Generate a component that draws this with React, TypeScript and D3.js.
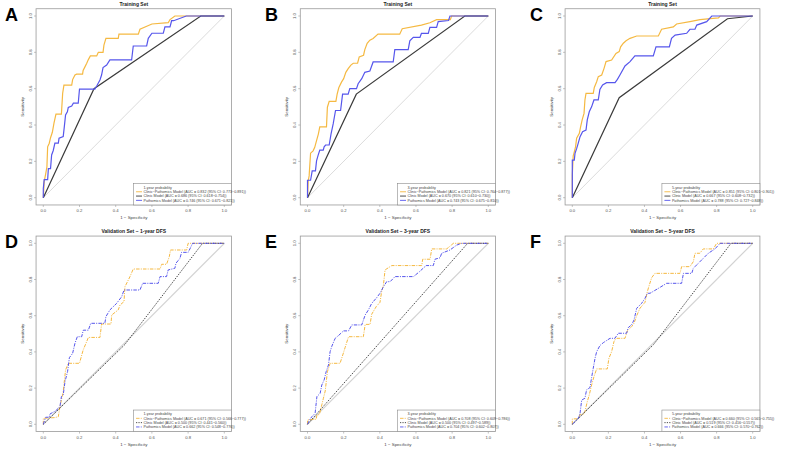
import React from 'react';
import * as d3 from 'd3';

type Pt = [number, number];

// panel text
const letters = ['A', 'B', 'C', 'D', 'E', 'F'];
const titles = [
  'Training Set', 'Training Set', 'Training Set',
  'Validation Set \u2212 1-year DFS', 'Validation Set \u2212 3-year DFS', 'Validation Set \u2212 5-year DFS',
];
const horizons = ['1-year probability', '3-year probability', '5-year probability', '1-year probability', '3-year probability', '5-year probability'];
const combinedLabels = [
  'Clinic\u2212Pathomics Model (AUC = 0.832 (95% CI: 0.773\u22120.891))',
  'Clinic\u2212Pathomics Model (AUC = 0.821 (95% CI: 0.764\u22120.877))',
  'Clinic\u2212Pathomics Model (AUC = 0.851 (95% CI: 0.801\u22120.901))',
  'Clinic\u2212Pathomics Model (AUC = 0.671 (95% CI: 0.566\u22120.777))',
  'Clinic\u2212Pathomics Model (AUC = 0.708 (95% CI: 0.609\u22120.786))',
  'Clinic\u2212Pathomics Model (AUC = 0.660 (95% CI: 0.565\u22120.755))',
];
const clinicLabels = [
  'Clinic Model (AUC = 0.686 (95% CI: 0.618\u22120.754))',
  'Clinic Model (AUC = 0.670 (95% CI: 0.610\u22120.730))',
  'Clinic Model (AUC = 0.667 (95% CI: 0.608\u22120.732))',
  'Clinic Model (AUC = 0.500 (95% CI: 0.441\u22120.560))',
  'Clinic Model (AUC = 0.500 (95% CI: 0.497\u22120.589))',
  'Clinic Model (AUC = 0.519 (95% CI: 0.416\u22120.557))',
];
const pathomicsLabels = [
  'Pathomics Model (AUC = 0.746 (95% CI: 0.671\u22120.821))',
  'Pathomics Model (AUC = 0.743 (95% CI: 0.675\u22120.810))',
  'Pathomics Model (AUC = 0.788 (95% CI: 0.727\u22120.848))',
  'Pathomics Model (AUC = 0.662 (95% CI: 0.548\u22120.776))',
  'Pathomics Model (AUC = 0.704 (95% CI: 0.602\u22120.807))',
  'Pathomics Model (AUC = 0.666 (95% CI: 0.570\u22120.762))',
];
const tickValues = [0, 0.2, 0.4, 0.6, 0.8, 1.0];
const tickLabels = ['0.0', '0.2', '0.4', '0.6', '0.8', '1.0'];

// ROC vertices: [1 - specificity, sensitivity]
const combinedA: Pt[] = [
  [0, 0], [0.005, 0.09], [0.013, 0.13], [0.02, 0.17], [0.024, 0.28], [0.033, 0.30], [0.04, 0.33], [0.05, 0.36],
  [0.059, 0.41], [0.07, 0.46], [0.10, 0.46], [0.107, 0.575], [0.114, 0.62], [0.157, 0.62], [0.162, 0.65],
  [0.175, 0.675], [0.184, 0.68], [0.217, 0.68], [0.22, 0.70], [0.23, 0.72], [0.24, 0.74], [0.249, 0.76],
  [0.26, 0.78], [0.295, 0.78], [0.304, 0.80], [0.33, 0.80], [0.335, 0.84], [0.346, 0.877], [0.414, 0.877],
  [0.418, 0.90], [0.525, 0.90], [0.534, 0.927], [0.60, 0.956], [0.69, 0.963], [0.70, 0.98], [0.727, 1.0], [1, 1],
];
const pathomicsA: Pt[] = [
  [0, 0], [0, 0.05], [0.005, 0.10], [0.024, 0.10], [0.028, 0.16], [0.04, 0.16], [0.046, 0.235], [0.055, 0.26],
  [0.064, 0.30], [0.083, 0.30], [0.087, 0.327], [0.11, 0.336], [0.116, 0.39], [0.123, 0.455], [0.133, 0.473],
  [0.138, 0.497], [0.157, 0.505], [0.166, 0.52], [0.193, 0.52], [0.20, 0.598], [0.285, 0.598], [0.295, 0.615],
  [0.313, 0.648], [0.322, 0.675], [0.33, 0.716], [0.35, 0.73], [0.368, 0.758], [0.488, 0.758], [0.497, 0.835],
  [0.571, 0.835], [0.58, 0.877], [0.60, 0.905], [0.663, 0.905], [0.672, 0.94], [0.70, 0.94], [0.709, 0.974],
  [0.72, 0.974], [0.79, 1.0], [1, 1],
];
const clinicA: Pt[] = [[0, 0], [0.28, 0.60], [0.87, 1.0], [1, 1]];

const combinedB: Pt[] = [
  [0, 0], [0.004, 0.092], [0.009, 0.12], [0.017, 0.245], [0.031, 0.258], [0.04, 0.277], [0.05, 0.314],
  [0.06, 0.35], [0.068, 0.39], [0.105, 0.39], [0.11, 0.498], [0.12, 0.53], [0.157, 0.53], [0.164, 0.57],
  [0.173, 0.605], [0.188, 0.636], [0.20, 0.655], [0.212, 0.69], [0.225, 0.71], [0.24, 0.73], [0.253, 0.74],
  [0.277, 0.74], [0.286, 0.775], [0.31, 0.784], [0.317, 0.815], [0.33, 0.85], [0.345, 0.867], [0.363, 0.876],
  [0.39, 0.90], [0.51, 0.90], [0.524, 0.93], [0.63, 0.95], [0.677, 0.963], [0.714, 0.98], [0.79, 0.98],
  [0.797, 1.0], [1, 1],
];
const pathomicsB: Pt[] = [
  [0, 0], [0, 0.096], [0.017, 0.096], [0.026, 0.148], [0.044, 0.148], [0.05, 0.203], [0.059, 0.234],
  [0.068, 0.262], [0.087, 0.262], [0.092, 0.28], [0.10, 0.29], [0.12, 0.29], [0.13, 0.35], [0.142, 0.406],
  [0.155, 0.48], [0.183, 0.48], [0.194, 0.57], [0.225, 0.57], [0.234, 0.60], [0.271, 0.60], [0.28, 0.627],
  [0.30, 0.655], [0.317, 0.69], [0.345, 0.697], [0.363, 0.747], [0.474, 0.747], [0.483, 0.815], [0.557, 0.815],
  [0.566, 0.863], [0.585, 0.882], [0.622, 0.882], [0.63, 0.904], [0.668, 0.904], [0.677, 0.937], [0.714, 0.937],
  [0.723, 0.969], [0.78, 0.975], [0.788, 1.0], [1, 1],
];
const clinicB: Pt[] = [[0, 0], [0.27, 0.57], [0.87, 1.0], [1, 1]];

const combinedC: Pt[] = [
  [0, 0], [0, 0.125], [0.005, 0.23], [0.009, 0.244], [0.018, 0.28], [0.024, 0.327], [0.039, 0.354],
  [0.046, 0.39], [0.055, 0.43], [0.065, 0.464], [0.07, 0.538], [0.076, 0.574], [0.116, 0.574], [0.122, 0.607],
  [0.135, 0.638], [0.144, 0.666], [0.163, 0.675], [0.176, 0.712], [0.187, 0.749], [0.218, 0.758],
  [0.242, 0.794], [0.26, 0.804], [0.268, 0.83], [0.283, 0.85], [0.298, 0.864], [0.32, 0.877], [0.357, 0.89],
  [0.477, 0.89], [0.495, 0.927], [0.56, 0.94], [0.578, 0.956], [0.652, 0.969], [0.708, 0.98], [0.78, 0.987],
  [0.81, 0.99], [0.82, 1.0], [1, 1],
];
const pathomicsC: Pt[] = [
  [0, 0], [0, 0.207], [0.011, 0.207], [0.015, 0.244], [0.024, 0.27], [0.033, 0.30], [0.043, 0.336],
  [0.057, 0.363], [0.076, 0.372], [0.083, 0.428], [0.094, 0.473], [0.107, 0.50], [0.12, 0.538], [0.144, 0.538],
  [0.153, 0.596], [0.168, 0.62], [0.19, 0.633], [0.237, 0.633], [0.25, 0.651], [0.264, 0.675], [0.292, 0.725],
  [0.32, 0.749], [0.347, 0.78], [0.449, 0.78], [0.464, 0.83], [0.538, 0.83], [0.55, 0.877], [0.57, 0.895],
  [0.634, 0.905], [0.652, 0.927], [0.68, 0.927], [0.69, 0.95], [0.745, 0.969], [0.773, 1.0], [1, 1],
];
const clinicC: Pt[] = [[0, 0], [0.26, 0.55], [0.86, 0.985], [1, 1]];

const combinedD: Pt[] = [
  [0, 0], [0, 0.033], [0.064, 0.037], [0.083, 0.042], [0.092, 0.098], [0.11, 0.18], [0.123, 0.30],
  [0.138, 0.337], [0.20, 0.337], [0.21, 0.374], [0.22, 0.41], [0.236, 0.448], [0.249, 0.48], [0.313, 0.48],
  [0.322, 0.554], [0.374, 0.554], [0.378, 0.604], [0.414, 0.632], [0.424, 0.659], [0.446, 0.678],
  [0.451, 0.76], [0.479, 0.816], [0.497, 0.858], [0.645, 0.858], [0.654, 0.884], [0.681, 0.884],
  [0.696, 0.926], [0.703, 0.963], [0.792, 0.963], [0.80, 1.0], [1, 1],
];
const pathomicsD: Pt[] = [
  [0, 0], [0.013, 0.039], [0.033, 0.039], [0.037, 0.057], [0.068, 0.074], [0.092, 0.098], [0.10, 0.153],
  [0.11, 0.162], [0.12, 0.236], [0.134, 0.291], [0.144, 0.368], [0.162, 0.392], [0.175, 0.448], [0.188, 0.484],
  [0.212, 0.484], [0.221, 0.52], [0.249, 0.52], [0.262, 0.558], [0.34, 0.558], [0.346, 0.595], [0.368, 0.632],
  [0.405, 0.668], [0.433, 0.705], [0.446, 0.742], [0.534, 0.742], [0.549, 0.779], [0.635, 0.779],
  [0.645, 0.816], [0.681, 0.816], [0.69, 0.853], [0.727, 0.862], [0.733, 0.89], [0.755, 0.917], [0.764, 0.95],
  [0.80, 0.95], [0.81, 0.969], [0.825, 1.0], [1, 1],
];
const clinicD: Pt[] = [[0, 0], [0.45, 0.44], [0.88, 1.0], [1, 1]];

const combinedE: Pt[] = [
  [0, 0], [0, 0.024], [0.048, 0.028], [0.052, 0.05], [0.066, 0.055], [0.079, 0.107], [0.088, 0.144],
  [0.098, 0.184], [0.11, 0.29], [0.125, 0.337], [0.18, 0.337], [0.195, 0.383], [0.208, 0.424], [0.227, 0.484],
  [0.309, 0.484], [0.319, 0.552], [0.346, 0.552], [0.355, 0.608], [0.38, 0.65], [0.401, 0.674], [0.41, 0.733],
  [0.42, 0.77], [0.429, 0.853], [0.466, 0.877], [0.632, 0.877], [0.637, 0.912], [0.678, 0.912],
  [0.687, 0.969], [0.77, 0.969], [0.807, 1.0], [1, 1],
];
const pathomicsE: Pt[] = [
  [0, 0], [0.011, 0.024], [0.024, 0.042], [0.042, 0.06], [0.052, 0.153], [0.07, 0.171], [0.079, 0.217],
  [0.092, 0.245], [0.103, 0.29], [0.116, 0.328], [0.125, 0.401], [0.134, 0.43], [0.153, 0.475], [0.171, 0.49],
  [0.199, 0.516], [0.227, 0.516], [0.245, 0.549], [0.30, 0.549], [0.319, 0.604], [0.337, 0.632],
  [0.355, 0.668], [0.383, 0.70], [0.401, 0.724], [0.42, 0.76], [0.438, 0.788], [0.457, 0.788], [0.484, 0.816],
  [0.586, 0.816], [0.619, 0.843], [0.656, 0.877], [0.696, 0.877], [0.705, 0.912], [0.733, 0.92],
  [0.742, 0.945], [0.788, 0.963], [0.825, 0.99], [0.853, 1.0], [1, 1],
];
const clinicE: Pt[] = [[0, 0], [0.886, 1.0], [1, 1]];

const combinedF: Pt[] = [
  [0, 0], [0, 0.03], [0.033, 0.03], [0.043, 0.055], [0.061, 0.055], [0.07, 0.07], [0.083, 0.125],
  [0.094, 0.162], [0.107, 0.217], [0.12, 0.263], [0.135, 0.306], [0.194, 0.306], [0.203, 0.365],
  [0.218, 0.401], [0.231, 0.457], [0.242, 0.475], [0.292, 0.475], [0.305, 0.516], [0.329, 0.54],
  [0.342, 0.558], [0.357, 0.60], [0.375, 0.641], [0.403, 0.674], [0.416, 0.733], [0.427, 0.77], [0.44, 0.81],
  [0.458, 0.834], [0.597, 0.834], [0.606, 0.871], [0.652, 0.871], [0.671, 0.899], [0.68, 0.945],
  [0.707, 0.945], [0.726, 0.969], [0.782, 0.969], [0.80, 1.0], [1, 1],
];
const pathomicsF: Pt[] = [
  [0, 0], [0.015, 0.015], [0.033, 0.033], [0.043, 0.061], [0.052, 0.134], [0.07, 0.144], [0.079, 0.19],
  [0.098, 0.203], [0.107, 0.258], [0.116, 0.309], [0.126, 0.365], [0.135, 0.401], [0.153, 0.435],
  [0.172, 0.451], [0.209, 0.475], [0.236, 0.475], [0.255, 0.503], [0.301, 0.503], [0.31, 0.534],
  [0.329, 0.55], [0.342, 0.576], [0.357, 0.641], [0.384, 0.668], [0.403, 0.696], [0.416, 0.724],
  [0.431, 0.724], [0.477, 0.751], [0.523, 0.779], [0.606, 0.779], [0.616, 0.834], [0.662, 0.834],
  [0.671, 0.862], [0.699, 0.89], [0.726, 0.917], [0.754, 0.945], [0.791, 0.969], [0.819, 1.0], [1, 1],
];
const clinicF: Pt[] = [[0, 0], [0.45, 0.44], [0.88, 1.0], [1, 1]];

const combinedCurves = [combinedA, combinedB, combinedC, combinedD, combinedE, combinedF];
const clinicCurves = [clinicA, clinicB, clinicC, clinicD, clinicE, clinicF];
const pathomicsCurves = [pathomicsA, pathomicsB, pathomicsC, pathomicsD, pathomicsE, pathomicsF];

// layout: pixel position of 0 and 1 on each axis
const colX = [[43.3, 224.3], [307.5, 488.3], [572.3, 752.7]];
const rowY = [[197.7, 16], [424.3, 243.3]];
const letterX = [5, 265, 530];

const ORANGE = '#F5B942';
const BLUE = '#5656EC';
const DARK = '#3a3a3a';
const FONT = '"Liberation Sans", Arial, sans-serif';

function RocPanel({ i }: { i: number }) {
  const col = i % 3;
  const row = Math.floor(i / 3);
  const validation = row === 1;
  const x = d3.scaleLinear().domain([0, 1]).range(colX[col]);
  const y = d3.scaleLinear().domain([0, 1]).range(rowY[row]);
  const bx0 = x(-0.04), bx1 = x(1.04), by0 = y(1.04), by1 = y(-0.04);
  const line = d3.line<Pt>().x(d => x(d[0])).y(d => y(d[1]));

  const dashModel = validation ? '3.5,1.2,1,1.2' : undefined;
  const dashClinic = validation ? '1.2,1.2' : undefined;
  const sw = validation ? 1.0 : 1.2;

  const legW = 98, legH = 21.5;
  const lx = bx1 - legW, ly = by1 - legH;
  const entries = [
    { label: combinedLabels[i], color: ORANGE, dash: dashModel },
    { label: clinicLabels[i], color: DARK, dash: dashClinic },
    { label: pathomicsLabels[i], color: BLUE, dash: dashModel },
  ];

  return (
    <g fontFamily={FONT}>
      <text x={letterX[col]} y={row === 0 ? 21 : 248} fontSize={18} fontWeight="bold" fill="#000">{letters[i]}</text>
      <text x={(bx0 + bx1) / 2} y={by0 - 3} fontSize={5} fontWeight="bold" textAnchor="middle" fill="#222">{titles[i]}</text>
      <line x1={x(0)} y1={y(0)} x2={x(1)} y2={y(1)} stroke="#d2d2d2" strokeWidth={validation ? 1.2 : 0.8} />
      <path d={line(combinedCurves[i]) ?? ''} fill="none" stroke={ORANGE} strokeWidth={sw} strokeDasharray={dashModel} />
      <path d={line(clinicCurves[i]) ?? ''} fill="none" stroke={DARK} strokeWidth={sw} strokeDasharray={dashClinic} />
      <path d={line(pathomicsCurves[i]) ?? ''} fill="none" stroke={BLUE} strokeWidth={sw} strokeDasharray={dashModel} />
      <rect x={bx0} y={by0} width={bx1 - bx0} height={by1 - by0} fill="none" stroke="#9a9a9a" strokeWidth={0.8} />
      {tickValues.map((t, k) => (
        <g key={'x' + k}>
          <line x1={x(t)} x2={x(t)} y1={by1} y2={by1 + 2} stroke="#9a9a9a" strokeWidth={0.6} />
          <text x={x(t)} y={by1 + 7} fontSize={4.2} textAnchor="middle" fill="#555">{tickLabels[k]}</text>
          <line x1={bx0 - 2} x2={bx0} y1={y(t)} y2={y(t)} stroke="#9a9a9a" strokeWidth={0.6} />
          <text transform={`translate(${bx0 - 4.5},${y(t)}) rotate(-90)`} fontSize={4.2} textAnchor="middle" fill="#555">{tickLabels[k]}</text>
        </g>
      ))}
      <text x={(bx0 + bx1) / 2} y={by1 + 14} fontSize={4.4} textAnchor="middle" fill="#444">1 {'\u2212'} Specificity</text>
      <text transform={`translate(${bx0 - 12.5},${(by0 + by1) / 2}) rotate(-90)`} fontSize={4.4} textAnchor="middle" fill="#444">Sensitivity</text>
      <rect x={lx} y={ly} width={legW} height={legH} fill="#fff" stroke="#8a8a8a" strokeWidth={0.6} />
      <text x={lx + 10} y={ly + 5.2} fontSize={3.7} fill="#444">{horizons[i]}</text>
      {entries.map((e, k) => (
        <g key={'l' + k}>
          <line x1={lx + 2.5} x2={lx + 8.5} y1={ly + 8.3 + k * 4.3} y2={ly + 8.3 + k * 4.3} stroke={e.color} strokeWidth={0.9} strokeDasharray={e.dash} />
          <text x={lx + 10} y={ly + 9.6 + k * 4.3} fontSize={3.7} fill="#444">{e.label}</text>
        </g>
      ))}
    </g>
  );
}

export default function App() {
  return (
    <svg width={800} height={450} style={{ position: 'absolute', left: 0, top: 0, background: '#fff' }}>
      <rect width={800} height={450} fill="#fff" />
      {letters.map((_, i) => <RocPanel key={i} i={i} />)}
    </svg>
  );
}
